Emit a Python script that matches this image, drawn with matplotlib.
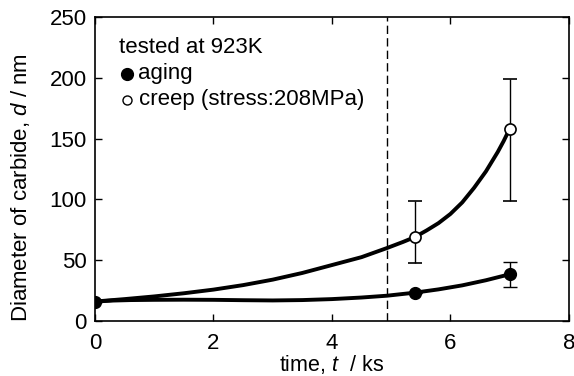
import matplotlib
matplotlib.use("Agg")
import matplotlib.pyplot as plt

plt.rcParams['font.family'] = ['Liberation Sans', 'DejaVu Sans']
plt.rcParams['mathtext.fontset'] = 'custom'
plt.rcParams['mathtext.rm'] = 'Liberation Sans'
plt.rcParams['mathtext.it'] = 'Liberation Sans:italic'

# measured points
aging_t = [0.0, 5.4, 7.0]
aging_d = [16.0, 23.3, 38.4]
aging_err_lo = [0.0, 0.0, 10.2]
aging_err_hi = [0.0, 0.0, 10.4]

creep_t = [5.4, 7.0]
creep_d = [69.0, 158.0]
creep_err_lo = [21.0, 59.0]
creep_err_hi = [30.0, 41.0]

# fitted curves
creep_curve_t = [0.0, 0.5, 1.0, 1.5, 2.0, 2.5, 3.0, 3.5, 4.0, 4.5, 4.93, 5.2, 5.4, 5.6, 5.8, 6.0, 6.2, 6.4, 6.6, 6.8, 6.9, 7.0]
creep_curve_d = [16.0, 18.0, 20.2, 22.8, 25.8, 29.5, 34.0, 39.5, 46.0, 52.5, 60.0, 65.0, 69.0, 74.5, 80.5, 88.0, 97.5, 109.5, 123.0, 139.0, 148.0, 158.0]
aging_curve_t = [0.0, 0.3, 0.6, 1.0, 1.5, 2.0, 2.5, 3.0, 3.5, 4.0, 4.5, 4.93, 5.4, 5.8, 6.2, 6.6, 7.0]
aging_curve_d = [16.0, 16.8, 17.2, 17.4, 17.5, 17.4, 17.1, 16.9, 17.2, 18.0, 19.3, 20.8, 23.3, 26.0, 29.3, 33.5, 38.4]

boundary_t = 4.93

xticks = [0, 2, 4, 6, 8]
yticks = [0, 50, 100, 150, 200, 250]

fig = plt.figure(figsize=(5.74, 3.76), dpi=100)
ax = fig.add_axes([0.1655, 0.1463, 0.8255, 0.8085])

ax.plot(creep_curve_t, creep_curve_d, color='black', lw=2.8, solid_capstyle='round', solid_joinstyle='round', zorder=2)
ax.plot(aging_curve_t, aging_curve_d, color='black', lw=2.8, solid_capstyle='round', solid_joinstyle='round', zorder=2)

ax.errorbar(aging_t, aging_d, yerr=[aging_err_lo, aging_err_hi], fmt='o', ms=8.5,
            mfc='black', mec='black', ecolor='black', elinewidth=1.0, capsize=5, capthick=1.0, zorder=3)
ax.errorbar(creep_t, creep_d, yerr=[creep_err_lo, creep_err_hi], fmt='o', ms=8,
            mfc='white', mec='black', mew=1.2, ecolor='black', elinewidth=1.0, capsize=5, capthick=1.0, zorder=3)

ax.axvline(boundary_t, color='black', lw=1.0, ls=(0, (6, 3)), zorder=1)

ax.set_xlim(0, 8)
ax.set_ylim(0, 250)
ax.set_xticks(xticks)
ax.set_yticks(yticks)
ax.tick_params(direction='in', top=True, right=True, length=5, width=1, labelsize=16)
ax.tick_params(axis='x', pad=9)
ax.tick_params(axis='y', pad=6)
for s in ax.spines.values():
    s.set_linewidth(1.2)

ax.set_xlabel('time, $t$  / ks', fontsize=15.5, labelpad=-1)
ax.set_ylabel('Diameter of carbide, $d$ / nm', fontsize=16)
ax.yaxis.set_label_coords(-0.133, 0.44)

# legend block
tr = ax.transAxes
fs = 16
ax.text(0.05, 0.90, 'tested at 923K', transform=tr, fontsize=fs, va='center', ha='left')
ax.plot([0.068], [0.813], 'o', transform=tr, ms=8.5, mfc='black', mec='black', clip_on=False)
ax.text(0.09, 0.813, 'aging', transform=tr, fontsize=fs, va='center', ha='left')
ax.plot([0.068], [0.727], 'o', transform=tr, ms=6.5, mfc='white', mec='black', mew=1.0, clip_on=False)
ax.text(0.093, 0.727, 'creep (stress:208MPa)', transform=tr, fontsize=fs, va='center', ha='left')

fig.savefig('out.png', dpi=100)
